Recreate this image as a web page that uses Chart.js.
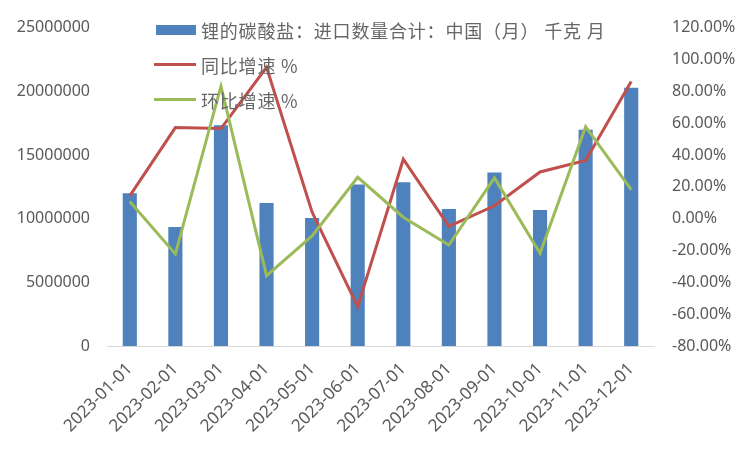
<!DOCTYPE html>
<html>
<head>
<meta charset="utf-8">
<script src="https://cdn.jsdelivr.net/npm/chart.js@4.4.1/dist/chart.umd.min.js"></script>
<style>
  html, body { margin: 0; padding: 0; background: #fff; }
  #wrap { position: relative; width: 751px; height: 451px; }
  #legend { position: absolute; left: 0; top: 0; pointer-events: none;
    font-family: "Noto Sans CJK SC", "Noto Sans", sans-serif; font-size: 18px; color: #666; letter-spacing: 0.8px; }
  .item { position: absolute; left: 154px; white-space: nowrap; height: 24px; line-height: 24px; }
  .sym { position: absolute; left: 0; }
  .txt { position: absolute; left: 47px; }
</style>
</head>
<body>
<div id="wrap">
  <canvas id="chart" width="751" height="451"></canvas>
  <div id="legend"></div>
</div>
<script>
// data
const labels = ["2023-01-01","2023-02-01","2023-03-01","2023-04-01","2023-05-01","2023-06-01",
                "2023-07-01","2023-08-01","2023-09-01","2023-10-01","2023-11-01","2023-12-01"];
const importQty = [12000000, 9350000, 17340000, 11220000, 10060000, 12690000,
                   12850000, 10760000, 13620000, 10680000, 16970000, 20280000];
const yoy = [14.3, 57.2, 56.6, 95.1, 4.0, -55.3, 37.3, -4.9, 8.1, 29.3, 36.5, 86.2];
const mom = [10.7, -22.2, 83.2, -35.8, -10.9, 26.0, 0.9, -16.6, 25.6, -21.8, 57.8, 18.3];
const leftTicks = [0, 5000000, 10000000, 15000000, 20000000, 25000000];
const rightTicks = [-80, -60, -40, -20, 0, 20, 40, 60, 80, 100, 120];

const names = ["锂的碳酸盐：进口数量合计：中国（月） 千克 月", "同比增速 %", "环比增速 %"];
const colors = ["#4F81BD", "#C0504D", "#9BBB59"];

// legend
const legend = document.getElementById("legend");
const rowY = [30, 65, 100];
names.forEach((n, i) => {
    const it = document.createElement("div");
    it.className = "item";
    it.style.top = (rowY[i] - 12) + "px";
    const sym = document.createElement("div");
    sym.className = "sym";
    if (i === 0) {
        sym.style.cssText = "left:2px;top:7px;width:40px;height:10px;background:" + colors[i];
    } else {
        sym.style.cssText = "left:0;top:10px;width:42px;height:3px;background:" + colors[i];
    }
    const t = document.createElement("span");
    t.className = "txt";
    t.textContent = n;
    it.appendChild(sym);
    it.appendChild(t);
    legend.appendChild(it);
});

const tickFont = { family: "Noto Sans", size: 16 };
const gray = "#595959";

new Chart(document.getElementById("chart"), {
    type: "bar",
    data: {
        labels: labels,
        datasets: [
            { type: "bar", label: names[0], data: importQty, backgroundColor: colors[0],
              yAxisID: "y", order: 3, barPercentage: 0.31, categoryPercentage: 1 },
            { type: "line", label: names[1], data: yoy, borderColor: colors[1], borderWidth: 3,
              pointRadius: 0, tension: 0, yAxisID: "y1", order: 2 },
            { type: "line", label: names[2], data: mom, borderColor: colors[2], borderWidth: 3,
              pointRadius: 0, tension: 0, yAxisID: "y1", order: 1 }
        ]
    },
    options: {
        responsive: false,
        animation: false,
        devicePixelRatio: 1,
        layout: { padding: { top: 24, left: 0, right: 0, bottom: 0 } },
        plugins: { legend: { display: false }, tooltip: { enabled: false } },
        scales: {
            x: {
                grid: { display: false, drawTicks: false },
                border: { display: true, color: "#d9d9d9", width: 1 },
                ticks: { color: gray, font: { family: "Noto Sans", size: 17 }, minRotation: 45, maxRotation: 45, padding: 13 },
                afterFit: s => { s.height = 105; }
            },
            y: {
                position: "left",
                min: 0, max: 25000000,
                grid: { display: false, drawTicks: false },
                border: { display: false },
                afterBuildTicks: s => { s.ticks = leftTicks.map(v => ({ value: v })); },
                ticks: { color: gray, font: tickFont, padding: 17, callback: v => String(v) },
                afterFit: s => { s.width = 107; }
            },
            y1: {
                position: "right",
                min: -80, max: 120,
                grid: { display: false, drawTicks: false },
                border: { display: false },
                afterBuildTicks: s => { s.ticks = rightTicks.map(v => ({ value: v })); },
                ticks: { color: gray, font: tickFont, padding: 18, callback: v => v.toFixed(2) + "%" },
                afterFit: s => { s.width = 97; }
            }
        }
    }
});
</script>
</body>
</html>
